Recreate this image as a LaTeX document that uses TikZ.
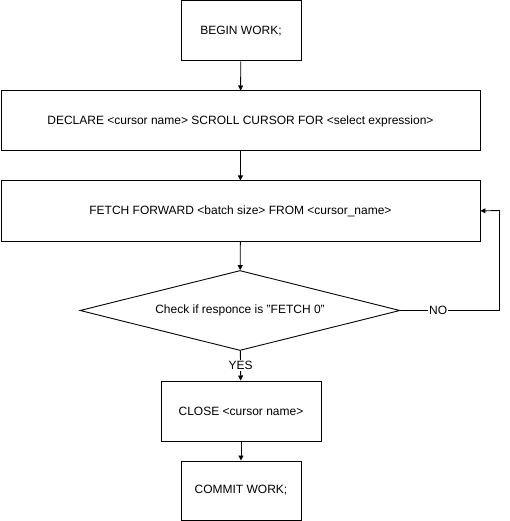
\documentclass[tikz,border=0pt]{standalone}
\usepackage{fontspec}
\setmainfont{Liberation Sans}
\usetikzlibrary{shapes.geometric,arrows.meta}
\begin{document}
\begin{tikzpicture}[x=1pt,y=-1pt,
  every node/.style={font=\fontsize{12}{14}\selectfont, inner sep=0pt},
  boxnode/.style={draw, line width=0.9pt, rectangle, anchor=north west},
  conn/.style={line width=0.9pt, -{Triangle[length=5pt,width=5pt]}},
  lbl/.style={fill=white, inner sep=1pt}]
\useasboundingbox (0,0) rectangle (509,521);
\node[boxnode, minimum width=120pt, minimum height=60pt] (b1) at (180.5,0.5) {BEGIN WORK;};
\node[boxnode, minimum width=479pt, minimum height=60pt] (b2) at (0.5,90.5) {DECLARE <cursor name> SCROLL CURSOR FOR <select expression>};
\node[boxnode, minimum width=479pt, minimum height=60pt] (b3) at (0.5,180.5) {FETCH FORWARD <batch size> FROM <cursor\_name>};
\node[draw, line width=0.9pt, diamond, aspect=4, minimum width=320pt, minimum height=80pt, inner sep=0pt] (d) at (240,310.5) {Check if responce is "FETCH 0"};
\node[boxnode, minimum width=160pt, minimum height=60pt] (b5) at (160.5,380.5) {CLOSE <cursor name>};
\node[boxnode, minimum width=120pt, minimum height=59pt] (b6) at (180.5,460.5) {COMMIT WORK;};
\coordinate (c1) at (499.5,310.5);
\coordinate (c2) at (499.5,210.5);
\draw[conn] (b1) -- (b2);
\draw[conn] (b2) -- (b3);
\draw[conn] (b3) -- (d);
\draw[conn] (d) -- node[lbl, pos=0.5] {YES} (b5);
\draw[conn] (b5) -- (b6);
\draw[conn] (d.east) -- node[lbl, pos=0.38] {NO} (c1) -- (c2) -- (b3.east);
\end{tikzpicture}
\end{document}
